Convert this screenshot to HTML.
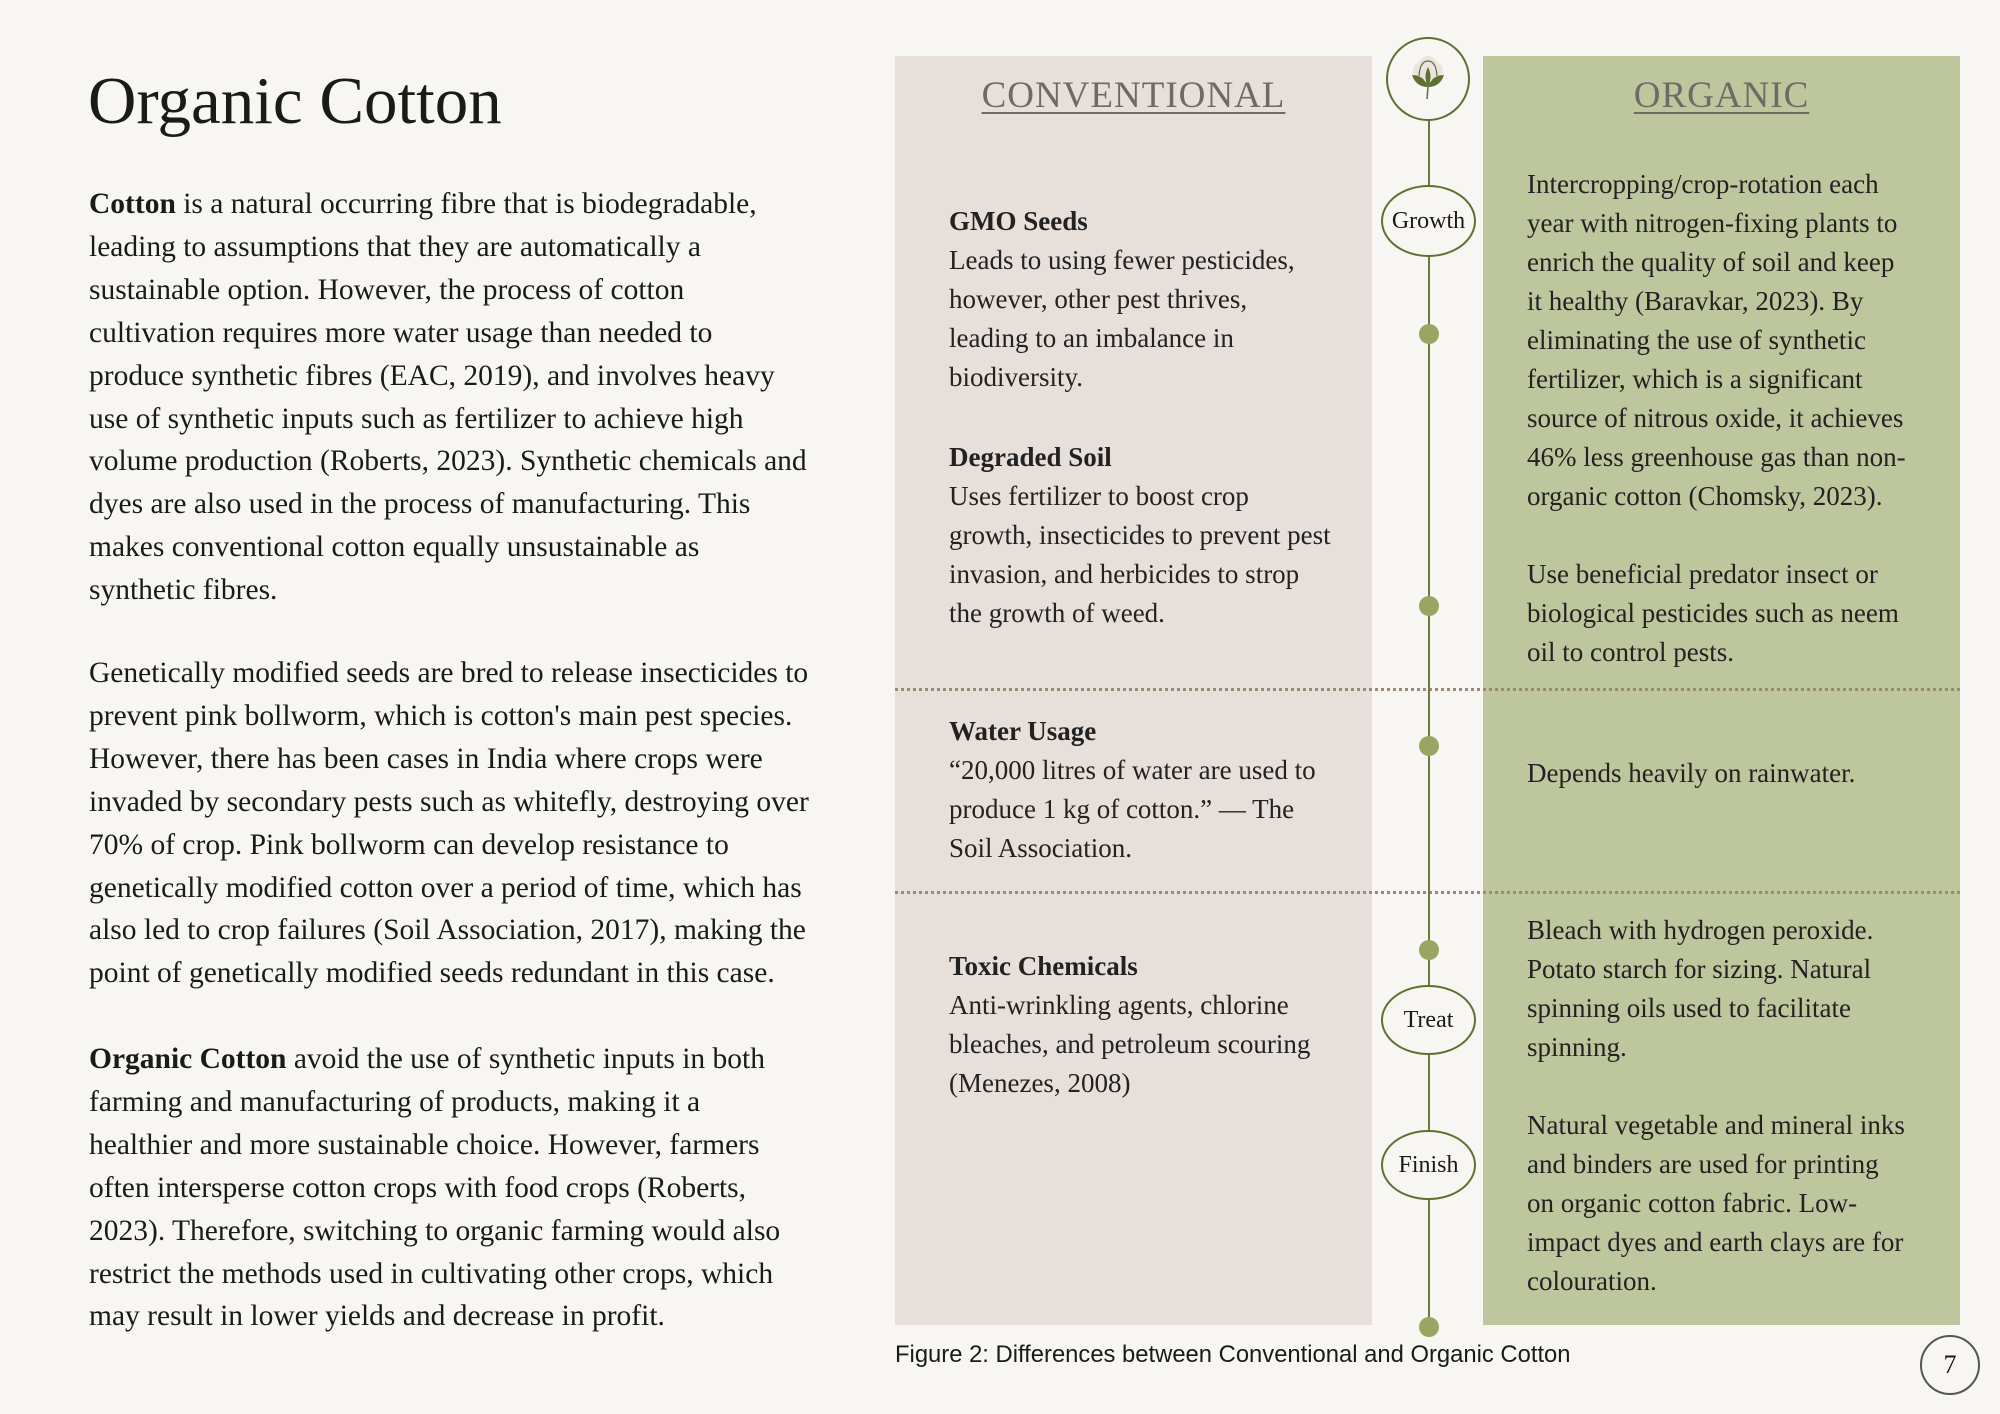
<!DOCTYPE html>
<html><head><meta charset="utf-8">
<style>
html,body{margin:0;padding:0}
body{width:2000px;height:1414px;background:#f8f6f2;position:relative;overflow:hidden;font-family:"Liberation Serif",serif;color:#1a1a1a}
.abs{position:absolute;white-space:nowrap}
.body{left:89px;font-size:29.5px;line-height:42.9px}
.col{font-size:27px;line-height:39px;color:#222}
b{font-weight:bold}
.dot{position:absolute;width:20px;height:20px;border-radius:50%;background:#98a662;left:1419px}
.ell{position:absolute;border:2px solid #5f7033;border-radius:50%;background:#f8f6f2;display:flex;align-items:center;justify-content:center;font-size:24px;box-sizing:border-box}
.dash{position:absolute;left:895px;width:1065px;border-top:3px dotted #9c8a76;height:0}
.head{left:0;text-align:center;top:74px;font-size:37px;letter-spacing:1px;color:#6e6a66;text-decoration:underline;text-decoration-thickness:2px;text-underline-offset:5px}
</style></head><body>
<div class="abs" style="left:88px;top:61px;font-size:67px;line-height:80px">Organic Cotton</div>

<div class="abs body" style="top:183px"><b>Cotton</b> is a natural occurring fibre that is biodegradable,<br>leading to assumptions that they are automatically a<br>sustainable option. However, the process of cotton<br>cultivation requires more water usage than needed to<br>produce synthetic fibres (EAC, 2019), and involves heavy<br>use of synthetic inputs such as fertilizer to achieve high<br>volume production (Roberts, 2023). Synthetic chemicals and<br>dyes are also used in the process of manufacturing. This<br>makes conventional cotton equally unsustainable as<br>synthetic fibres.</div>

<div class="abs body" style="top:652px">Genetically modified seeds are bred to release insecticides to<br>prevent pink bollworm, which is cotton's main pest species.<br>However, there has been cases in India where crops were<br>invaded by secondary pests such as whitefly, destroying over<br>70% of crop. Pink bollworm can develop resistance to<br>genetically modified cotton over a period of time, which has<br>also led to crop failures (Soil Association, 2017), making the<br>point of genetically modified seeds redundant in this case.</div>

<div class="abs body" style="top:1038px"><b>Organic Cotton</b> avoid the use of synthetic inputs in both<br>farming and manufacturing of products, making it a<br>healthier and more sustainable choice. However, farmers<br>often intersperse cotton crops with food crops (Roberts,<br>2023). Therefore, switching to organic farming would also<br>restrict the methods used in cultivating other crops, which<br>may result in lower yields and decrease in profit.</div>

<div style="position:absolute;left:895px;top:56px;width:477px;height:1269px;background:#e6dfda">
<div class="abs head" style="width:477px;top:18px">CONVENTIONAL</div></div>
<div style="position:absolute;left:1483px;top:56px;width:477px;height:1269px;background:#bdc69c">
<div class="abs head" style="width:477px;top:18px">ORGANIC</div></div>

<div class="dash" style="top:688px"></div>
<div class="dash" style="top:891px"></div>

<div class="abs col" style="left:949px;top:202px"><b>GMO Seeds</b><br>Leads to using fewer pesticides,<br>however, other pest thrives,<br>leading to an imbalance in<br>biodiversity.</div>
<div class="abs col" style="left:949px;top:438px"><b>Degraded Soil</b><br>Uses fertilizer to boost crop<br>growth, insecticides to prevent pest<br>invasion, and herbicides to strop<br>the growth of weed.</div>
<div class="abs col" style="left:949px;top:712px"><b>Water Usage</b><br>“20,000 litres of water are used to<br>produce 1 kg of cotton.” — The<br>Soil Association.</div>
<div class="abs col" style="left:949px;top:947px"><b>Toxic Chemicals</b><br>Anti-wrinkling agents, chlorine<br>bleaches, and petroleum scouring<br>(Menezes, 2008)</div>

<div class="abs col" style="left:1527px;top:165px">Intercropping/crop-rotation each<br>year with nitrogen-fixing plants to<br>enrich the quality of soil and keep<br>it healthy (Baravkar, 2023). By<br>eliminating the use of synthetic<br>fertilizer, which is a significant<br>source of nitrous oxide, it achieves<br>46% less greenhouse gas than non-<br>organic cotton (Chomsky, 2023).<br><br>Use beneficial predator insect or<br>biological pesticides such as neem<br>oil to control pests.</div>
<div class="abs col" style="left:1527px;top:754px">Depends heavily on rainwater.</div>
<div class="abs col" style="left:1527px;top:911px">Bleach with hydrogen peroxide.<br>Potato starch for sizing. Natural<br>spinning oils used to facilitate<br>spinning.<br><br>Natural vegetable and mineral inks<br>and binders are used for printing<br>on organic cotton fabric. Low-<br>impact dyes and earth clays are for<br>colouration.</div>

<div style="position:absolute;left:1428px;top:110px;width:2px;height:1210px;background:#6b7a3e"></div>

<div class="ell" style="left:1386px;top:37px;width:84px;height:84px">
<svg width="60" height="60" viewBox="0 0 60 60"><circle cx="24" cy="22" r="9" fill="#ece2e0"/><circle cx="36" cy="22" r="9" fill="#ece2e0"/><circle cx="30" cy="16" r="9" fill="#ece2e0"/><path d="M21 27 Q22 12 30 12 Q38 12 39 27" fill="none" stroke="#5f7033" stroke-width="1.2"/><path d="M30 18 Q35 28 30 38 Q25 28 30 18Z" fill="#5f7033"/><path d="M14 26 Q26 26 30 38 Q18 38 14 26Z" fill="#5f7033"/><path d="M46 26 Q34 26 30 38 Q42 38 46 26Z" fill="#5f7033"/><path d="M30 38 L29 50" stroke="#5f7033" stroke-width="1.5"/></svg></div>

<div class="ell" style="left:1381px;top:185px;width:95px;height:72px">Growth</div>
<div class="ell" style="left:1381px;top:985px;width:95px;height:70px">Treat</div>
<div class="ell" style="left:1381px;top:1130px;width:95px;height:70px">Finish</div>

<div class="dot" style="top:324px"></div>
<div class="dot" style="top:596px"></div>
<div class="dot" style="top:736px"></div>
<div class="dot" style="top:940px"></div>
<div class="dot" style="top:1317px"></div>

<div class="abs" style="left:895px;top:1341px;font-family:'Liberation Sans',sans-serif;font-size:23.8px;line-height:28px">Figure 2: Differences between Conventional and Organic Cotton</div>

<div style="position:absolute;left:1920px;top:1335px;width:60px;height:60px;border:2px solid #555;border-radius:50%;box-sizing:border-box;display:flex;align-items:center;justify-content:center;font-size:26px">7</div>
</body></html>
